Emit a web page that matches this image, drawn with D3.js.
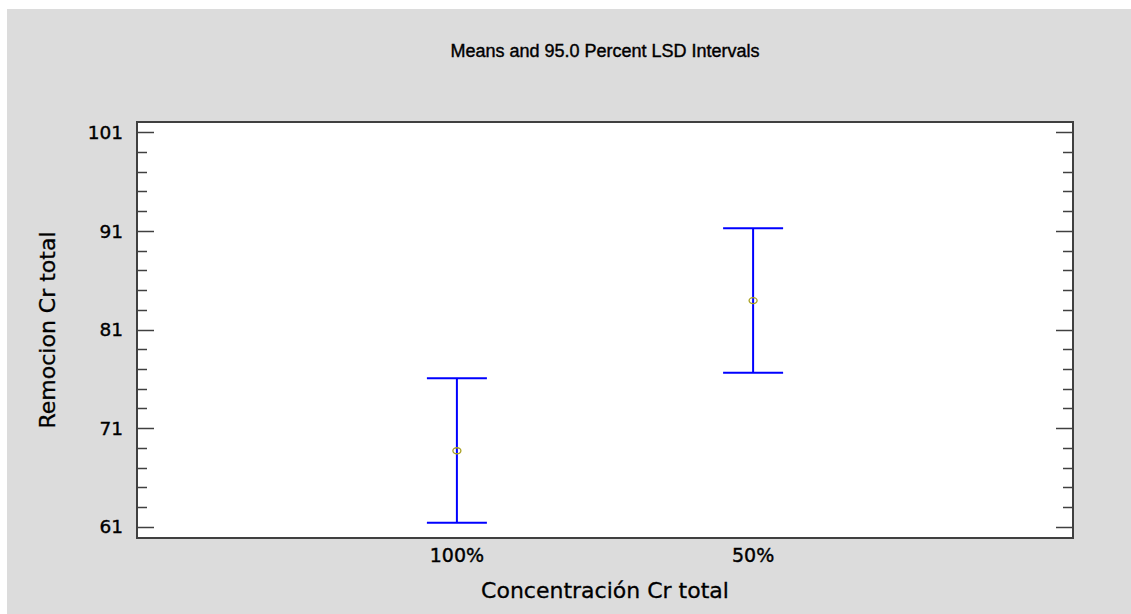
<!DOCTYPE html>
<html>
<head>
<meta charset="utf-8">
<script src="https://cdn.jsdelivr.net/npm/d3@7"></script>
<style>
  body { margin: 0; background: #fff; }
</style>
</head>
<body>
<div id="app"></div>
<script>
const WIDTH = 1131;
const HEIGHT = 614;

// data
const categories = ['100%', '50%'];
const means = [68.7, 83.94];
const lower = [61.4, 76.62];
const upper = [76.05, 91.26];
const yTicks = [61, 71, 81, 91, 101];

const box = { left: 137, right: 1073, top: 122, bottom: 538 };
const LABEL_FONT = '"DejaVu Sans", sans-serif';

const svg = d3.select('#app')
  .append('svg')
  .attr('width', WIDTH)
  .attr('height', HEIGHT);

svg.append('rect')
  .attr('x', 7).attr('y', 9)
  .attr('width', WIDTH - 7).attr('height', HEIGHT - 9)
  .attr('fill', '#dcdcdc');

svg.append('rect')
  .attr('x', box.left).attr('y', box.top)
  .attr('width', box.right - box.left).attr('height', box.bottom - box.top)
  .attr('fill', '#fff');

const x = d3.scalePoint()
  .domain(categories)
  .range([box.left, box.right])
  .padding(1.08);

const y = d3.scaleLinear()
  .domain([59.85, 102.05])
  .range([box.bottom, box.top]);

const minorTicks = d3.range(61, 102, 2);

// y ticks on both sides, pointing inward
const tickG = svg.append('g').attr('stroke', '#404040').attr('stroke-width', 1.5);
minorTicks.forEach(v => {
  const len = yTicks.includes(v) ? 17 : 10;
  const py = Math.round(y(v)) + 0.5;
  tickG.append('line').attr('x1', box.left).attr('x2', box.left + len).attr('y1', py).attr('y2', py);
  tickG.append('line').attr('x1', box.right).attr('x2', box.right - len).attr('y1', py).attr('y2', py);
});

svg.append('rect')
  .attr('x', box.left).attr('y', box.top)
  .attr('width', box.right - box.left).attr('height', box.bottom - box.top)
  .attr('fill', 'none')
  .attr('stroke', '#404040')
  .attr('stroke-width', 2);

svg.append('g').selectAll('text')
  .data(yTicks)
  .join('text')
  .attr('x', box.left - 14)
  .attr('y', d => y(d))
  .attr('dy', '0.36em')
  .attr('text-anchor', 'end')
  .style('font-family', LABEL_FONT)
  .attr('font-size', 18.5)
  .attr('stroke', '#000')
  .attr('stroke-width', 0.4)
  .text(d => d);

svg.append('g').selectAll('text')
  .data(categories)
  .join('text')
  .attr('x', d => x(d))
  .attr('y', 562)
  .attr('text-anchor', 'middle')
  .style('font-family', LABEL_FONT)
  .attr('font-size', 19)
  .attr('stroke', '#000')
  .attr('stroke-width', 0.4)
  .text(d => d);

// error bars
const bars = svg.append('g').attr('stroke', '#0000ff').attr('stroke-width', 2);
categories.forEach((c, i) => {
  const cx = x(c);
  bars.append('line').attr('x1', cx).attr('x2', cx).attr('y1', y(lower[i])).attr('y2', y(upper[i]));
  bars.append('line').attr('x1', cx - 30).attr('x2', cx + 30).attr('y1', y(lower[i])).attr('y2', y(lower[i]));
  bars.append('line').attr('x1', cx - 30).attr('x2', cx + 30).attr('y1', y(upper[i])).attr('y2', y(upper[i]));
});

svg.append('g').selectAll('ellipse')
  .data(categories)
  .join('ellipse')
  .attr('cx', d => x(d))
  .attr('cy', (d, i) => y(means[i]))
  .attr('rx', 4)
  .attr('ry', 3)
  .attr('fill', 'none')
  .attr('stroke', '#a8a020')
  .attr('stroke-width', 1.3);

svg.append('text')
  .attr('x', (box.left + box.right) / 2)
  .attr('y', 57)
  .attr('text-anchor', 'middle')
  .style('font-family', '"Liberation Sans", Arial, sans-serif')
  .attr('font-size', 18)
  .attr('stroke', '#000')
  .attr('stroke-width', 0.4)
  .text('Means and 95.0 Percent LSD Intervals');

svg.append('text')
  .attr('x', (box.left + box.right) / 2)
  .attr('y', 598)
  .attr('text-anchor', 'middle')
  .style('font-family', LABEL_FONT)
  .attr('font-size', 22)
  .attr('stroke', '#000')
  .attr('stroke-width', 0.3)
  .text('Concentración Cr total');

svg.append('text')
  .attr('transform', `translate(55,${(box.top + box.bottom) / 2}) rotate(-90)`)
  .attr('text-anchor', 'middle')
  .style('font-family', LABEL_FONT)
  .attr('font-size', 22)
  .attr('stroke', '#000')
  .attr('stroke-width', 0.3)
  .text('Remocion Cr total');
</script>
</body>
</html>
